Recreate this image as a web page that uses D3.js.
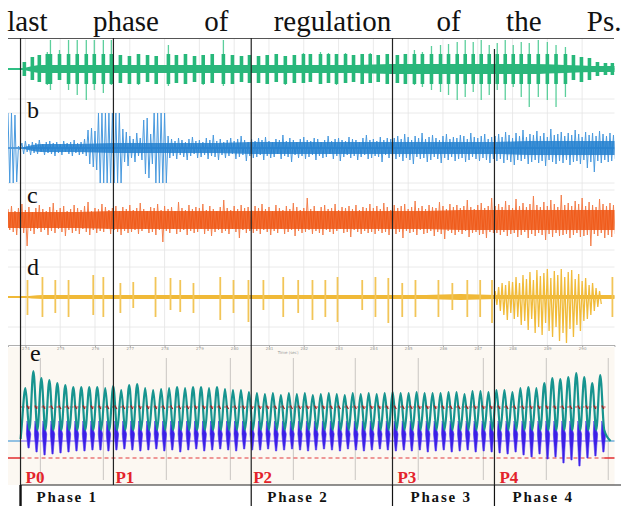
<!DOCTYPE html>
<html>
<head>
<meta charset="utf-8">
<script src="https://cdn.jsdelivr.net/npm/d3@7"></script>
<style>
html, body { margin: 0; padding: 0; background: #fff; }
svg { display: block; }
</style>
</head>
<body>
<div id="vis"></div>
<script>
// ---- values ----
const titleWords = ["last", "phase", "of", "regulation", "of", "the", "Ps."];
const timeTicks = [274, 275, 276, 277, 278, 279, 280, 281, 282, 283, 284, 285, 286, 287, 288, 289, 290];

// regulation points (s) and phases
const pTimes = [273.86, 276.53, 280.49, 284.55, 287.48];
const pLabels = ["P0", "P1", "P2", "P3", "P4"];
const phaseLabels = ["Phase 1", "Phase 2", "Phase 3", "Phase 4"];
const phaseFrom = [273.86, 280.49, 284.55, 287.48];

// trace a : bursts (time, up, down)
const aTime = [273.97, 274.20, 274.40, 274.63, 274.72, 274.98, 275.24, 275.49, 275.75, 275.98, 276.24, 276.47,
  276.73, 276.99, 277.25, 277.51, 277.76, 278.11, 278.34, 278.60, 278.86, 279.11, 279.37, 279.69, 279.95, 280.21, 280.44,
  280.70, 280.95, 281.21, 281.47, 281.73, 281.99, 282.19, 282.48, 282.71, 282.94, 283.20, 283.43, 283.68, 283.91, 284.14, 284.40,
  284.69, 284.92, 285.18, 285.41, 285.67, 285.93, 286.16, 286.41, 286.64, 286.87, 287.10, 287.33,
  287.56, 287.79, 288.02, 288.25, 288.48, 288.74, 289.00, 289.25, 289.52, 289.75, 289.98, 290.21, 290.44, 290.67, 290.87];
const aUp = [7, 12, 14, 17, 29, 19, 29, 29, 29, 29, 29, 29,
  14, 13, 15, 14, 13, 24, 14, 15, 13, 14, 15, 29, 14, 13, 14,
  13, 14, 15, 13, 14, 16, 15, 17, 16, 15, 16, 14, 15, 16, 14, 15,
  14, 15, 19, 17, 23, 24, 25, 27, 29, 27, 29, 24,
  26, 29, 24, 27, 26, 29, 27, 24, 22, 14, 12, 11, 7, 6, 6];
const aDn = [7, 11, 13, 16, 21, 11, 21, 26, 31, 21, 24, 16,
  14, 15, 16, 13, 15, 17, 14, 15, 13, 16, 14, 17, 15, 13, 14,
  14, 15, 13, 16, 14, 14, 13, 15, 14, 16, 14, 13, 15, 14, 13, 15,
  14, 15, 16, 18, 21, 23, 26, 31, 28, 23, 31, 26,
  21, 31, 18, 28, 38, 28, 31, 38, 28, 11, 13, 11, 7, 6, 6];
// noise floor, one value per second from 273.5 s
const aCore = [0, 4, 4, 4, 4, 4, 4, 4, 4, 4, 4, 5, 5, 5, 5, 5, 4, 3, 3];

// trace b : peak pairs every 0.1 s from 273.5 s
const bUp = [35, 35, 33, 2,
  5, 7, 4, 6, 5, 8, 4, 6, 7, 5, 6, 4, 7, 5, 6, 8, 5, 6, 9,
  18, 20, 17, 35, 35, 35, 35, 35, 35, 35, 19, 16,
  12, 9, 15, 10,
  28, 30, 14, 35, 35, 35, 35,
  12, 9, 7, 10, 8, 6, 9, 11, 7, 8, 6, 10, 8, 13, 7, 9, 6, 8, 10, 7, 9, 12, 8, 6, 9, 7, 10, 8, 11, 7, 6, 9, 8, 13, 7,
  10, 8, 6, 9, 11, 8, 7, 10, 9, 6, 8, 12, 7, 9, 10, 8, 7, 11, 9, 8, 6, 10, 13, 8, 9, 7, 11, 8, 10, 9,
  10, 12, 9, 14, 11, 8, 12, 10, 15, 9, 11, 13, 10, 8, 12, 14, 9, 11, 10, 13, 12, 9, 15, 11, 10, 12, 14, 9, 11,
  12, 14, 11, 16, 13, 10, 15, 12, 18, 11, 14, 13, 17, 12, 15, 11, 19, 13, 14, 16, 12, 15, 13, 18, 14, 11, 16, 13, 15, 12,
  17, 14, 12, 15, 13];
const bDn = [35, 35, 34, 2,
  6, 4, 7, 5, 6, 4, 7, 5, 6, 8, 5, 7, 4, 6, 8, 5, 7, 6, 8,
  16, 19, 22, 35, 35, 35, 35, 35, 35, 35, 14, 18,
  10, 14, 8, 12,
  26, 30, 16, 35, 35, 35, 35,
  10, 8, 11, 7, 9, 12, 8, 6, 10, 9, 7, 11, 8, 9, 12, 7, 10, 8, 6, 11, 9, 7, 13, 8, 10, 9, 7, 12, 8, 10, 9, 6, 11, 8, 9,
  14, 7, 10, 8, 11, 9, 7, 12, 8, 10, 9, 6, 11, 8, 13, 9, 7, 10, 8, 12, 9, 7, 11, 10, 8, 9, 14, 7, 10, 8,
  11, 9, 13, 10, 12, 16, 9, 11, 10, 14, 12, 9, 11, 15, 10, 12, 9, 13, 11, 10, 14, 12, 9, 11, 13, 10, 12, 15, 11,
  13, 11, 15, 12, 14, 17, 12, 13, 11, 16, 14, 12, 15, 13, 18, 12, 14, 16, 13, 15, 12, 17, 14, 13, 16, 12, 20, 14, 24, 13,
  15, 12, 14, 13, 11];
const bCore = [0, 4, 4, 5, 5, 5, 5, 6, 6, 6, 6, 6, 6, 6, 6, 7, 7, 7, 7];

// trace c : peak pairs every 0.1 s from 273.5 s
const cUp = [11, 14, 9, 12, 16, 10, 13, 8, 12, 15, 11, 9, 13, 17, 10, 12, 14, 9, 11, 15, 12, 10, 14, 18, 9, 12, 11, 16, 13, 10, 12, 14, 9, 13, 11,
  15, 10, 12, 17, 11, 9, 13, 12, 16, 10, 14, 11, 13, 9, 18, 12, 10, 15, 11, 13, 12, 16, 10, 14, 11, 9, 13, 20, 12, 10, 14, 11, 15, 12, 13,
  10, 14, 12, 16, 11, 13, 9, 15, 12, 10, 14, 11, 17, 13, 10, 12, 22, 11, 14, 9, 13, 15, 11, 12, 16, 10, 13, 12, 14, 11, 15, 10, 13, 12, 16,
  12, 14, 11, 17, 13, 10, 15, 12, 14, 16, 11, 13, 19, 12, 14, 11, 15, 13, 12, 18, 14, 11, 16, 13, 15, 12, 14, 20, 13, 11, 15, 17, 12, 14, 22,
  14, 16, 13, 19, 15, 12, 21, 14, 17, 13, 16, 24, 15, 13, 18, 14, 20, 16, 13, 25, 15, 17, 14, 19, 16, 22, 14, 18, 15, 13, 21, 16, 14, 17, 15];
const cDn = [10, 12, 15, 9, 13, 26, 11, 14, 9, 12, 10, 15, 11, 13, 9, 12, 16, 10, 13, 11, 14, 9, 12, 15, 10, 13, 11, 12, 9, 14, 10, 12, 15, 11, 13,
  12, 10, 14, 11, 9, 13, 12, 15, 10, 22, 11, 13, 9, 14, 12, 10, 15, 11, 13, 12, 9, 14, 11, 16, 12, 10, 13, 11, 14, 9, 12, 18, 10, 13, 11,
  13, 11, 14, 10, 12, 15, 11, 13, 9, 14, 12, 10, 16, 11, 13, 12, 10, 14, 11, 13, 15, 10, 12, 14, 11, 9, 13, 12, 17, 10, 12, 14, 11, 13, 12,
  14, 11, 13, 12, 15, 10, 14, 12, 18, 11, 13, 12, 15, 10, 14, 13, 11, 16, 12, 14, 19, 11, 13, 15, 12, 14, 11, 17, 13, 12, 15, 14, 18, 12, 13,
  13, 15, 12, 16, 14, 13, 17, 15, 12, 18, 14, 16, 13, 15, 20, 14, 17, 13, 16, 15, 14, 18, 15, 13, 17, 16, 15, 26, 14, 16, 13, 18, 15, 17, 14];
const cCore = [8, 8, 8, 9, 9, 9, 9, 9, 9, 9, 9, 9, 9, 10, 10, 10, 10, 10, 10];

// trace d : spikes (time, up, down) and the burst of phase 4 (pairs every 0.1 s from 287.5 s)
const dTime = [274.06, 274.49, 274.86, 275.24, 275.95, 276.24, 276.73, 277.10, 277.74, 278.17, 278.45, 278.83,
  279.60, 279.98, 280.41, 280.84, 281.41, 281.84, 282.25, 282.62, 282.97, 283.68, 284.06, 284.43,
  284.83, 285.21, 285.87, 286.27, 286.70, 287.07, 287.41, 290.87];
const dUp = [17, 20, 17, 17, 22, 20, 14, 15, 20, 19, 17, 14, 20, 17, 17, 17, 20, 17, 17, 17, 20, 17, 20, 19,
  14, 17, 17, 14, 17, 17, 17, 20];
const dDn = [18, 20, 16, 20, 18, 20, 16, 11, 20, 13, 15, 16, 23, 16, 25, 13, 20, 16, 23, 20, 25, 13, 20, 26,
  20, 20, 20, 13, 20, 20, 26, 20];
const dBurstUp = [6, 10, 14, 12, 16, 15, 20, 14, 22, 18, 25, 17, 27, 21, 24, 28, 19, 26, 22, 28, 20, 25, 27, 18, 23, 16, 19, 12, 14, 9, 6];
const dBurstDn = [8, 14, 18, 23, 16, 22, 20, 28, 24, 33, 22, 36, 30, 38, 26, 34, 40, 30, 44, 36, 46, 32, 40, 28, 34, 24, 22, 18, 14, 10, 7];
const dCore = [0, 2, 2, 2, 2, 2, 2, 2, 2, 2, 2, 2, 2, 3, 2, 2, 2, 2, 2];

// trace e : one value per breathing cycle
const ePeak = [42, 59, 52, 50, 47, 45, 43, 43, 43, 43, 42, 44,
  40, 45, 46, 42, 40, 41, 42, 43, 42, 43, 43, 42, 43, 41, 40, 40, 38,
  37, 36, 37, 35, 37, 36, 37, 35, 36, 37, 36, 35, 37, 36, 37, 36, 37, 38,
  37, 37, 38, 37, 37, 37, 38, 38, 36, 39, 39, 38, 40,
  40, 38, 42, 43, 42, 47, 52, 51, 53, 57, 53, 47, 55];
const eBurst = [18, 22, 25, 24, 23, 22, 21, 21, 20, 20, 21, 20,
  19, 20, 21, 20, 19, 21, 20, 22, 20, 19, 21, 20, 19, 20, 21, 19, 20,
  20, 19, 21, 20, 19, 20, 21, 20, 19, 20, 21, 19, 20, 21, 20, 19, 20, 21,
  20, 21, 20, 22, 21, 20, 22, 21, 20, 22, 21, 22, 23,
  24, 22, 25, 27, 24, 29, 27, 33, 30, 36, 28, 26, 22];
const eGrid = [274.43, 276.24, 278.05, 279.89, 281.70, 283.48, 285.29, 287.16, 288.97, 290.75];
const eUpperRef = 23, eLowerRef = -28, eRest = -11;

// ---- drawing ----
const svg = d3.select("#vis").append("svg").attr("width", 621).attr("height", 506);
const serif = "'Liberation Serif', 'Times New Roman', serif";

const x = d3.scaleLinear().domain([273.5, 290.93]).range([8, 614.5]);
const yA = d3.scaleLinear().domain([-30, 30]).range([99, 39]);
const yB = d3.scaleLinear().domain([-35, 35]).range([183, 113]);
const yC = d3.scaleLinear().domain([-30, 30]).range([250, 190]);
const yD = d3.scaleLinear().domain([-30, 30]).range([327, 267]);
const yE = d3.scaleLinear().domain([0, 60]).range([430, 370]);

// title, justified over the width like in the paper
const title = svg.append("g").attr("font-family", serif).attr("font-size", 29).attr("fill", "#111");
const words = title.selectAll("text").data(titleWords).join("text").attr("y", 30.5).text(d => d);
const wl = words.nodes().map(n => n.getComputedTextLength());
const gap = (621.5 - 7.3 - d3.sum(wl)) / (titleWords.length - 1);
let cur = 7.3;
words.attr("x", (d, i) => { const p = cur; cur += wl[i] + gap; return p; });

// panel e background
svg.append("rect").attr("x", 8).attr("y", 347).attr("width", 606.5).attr("height", 138).attr("fill", "#fcf8f2");

// grid of panels a-d
const grid = svg.append("g").attr("stroke", "#e4e4e4").attr("stroke-width", 0.8);
grid.selectAll(".v").data(timeTicks).join("line").attr("class", "v")
  .attr("x1", d => x(d)).attr("x2", d => x(d)).attr("y1", 38).attr("y2", 345);
[[yA, -30], [yB, 35], [yB, -35], [yC, 30], [yC, -30], [yD, 30], [yD, -30]].forEach(([s, v]) => {
  grid.append("line").attr("x1", 8).attr("x2", 614.5).attr("y1", s(v)).attr("y2", s(v));
});

// time axis under d
const axis = svg.append("g").attr("transform", "translate(0,345)")
  .call(d3.axisBottom(x).tickValues(timeTicks).tickSize(2).tickFormat(d => d));
axis.select(".domain").attr("stroke", "#9a9a9a").attr("stroke-width", 0.8);
axis.selectAll(".tick line").attr("stroke", "#aaa");
axis.selectAll("text").attr("font-size", 4).attr("fill", "#999").attr("font-family", "DejaVu Sans").attr("dy", "0.1em");
svg.append("text").attr("x", x(281.55)).attr("y", 354).attr("font-size", 4).attr("fill", "#999")
  .attr("font-family", "DejaVu Sans").attr("text-anchor", "middle").text("Time (sec)");

svg.append("clipPath").attr("id", "clipTop").append("rect").attr("x", 8).attr("y", 38).attr("width", 606.5).attr("height", 307);
const traces = svg.append("g").attr("clip-path", "url(#clipTop)");

function coreArea(vals, y, t0) {
  return d3.area().x((d, i) => x(Math.max(t0, 273.5 + i))).y0((d) => y(-d)).y1(d => y(d))
    .curve(d3.curveMonotoneX)(vals);
}
// peak pairs -> signal line: up peak at t, down peak half a step later
function zig(up, dn, t0, step) {
  const pts = [];
  up.forEach((u, i) => { pts.push([t0 + i * step, u]); pts.push([t0 + i * step + step / 2, -dn[i]]); });
  return pts;
}

// a (green)
traces.append("line").attr("x1", x(273.5)).attr("x2", x(290.93)).attr("y1", yA(0)).attr("y2", yA(0))
  .attr("stroke", "#2fbf84").attr("stroke-width", 2);
traces.append("path").attr("d", coreArea(aCore, yA, 273.86)).attr("fill", "#2db57c");
const ga = traces.append("g");
ga.selectAll("line").data(aTime).join("line")
  .attr("x1", d => x(d)).attr("x2", d => x(d))
  .attr("y1", (d, i) => yA(aUp[i])).attr("y2", (d, i) => yA(-aDn[i]))
  .attr("stroke", "#5ccf9c").attr("stroke-width", 1.3);
ga.selectAll("rect").data(aTime).join("rect")
  .attr("x", d => x(d) - 1.8).attr("width", 3.6)
  .attr("y", (d, i) => yA(Math.min(aUp[i], 15)))
  .attr("height", (d, i) => yA(-Math.min(aDn[i], 15)) - yA(Math.min(aUp[i], 15)))
  .attr("fill", "#27b87a");

// b (blue)
traces.append("line").attr("x1", x(273.5)).attr("x2", x(290.93)).attr("y1", yB(0)).attr("y2", yB(0))
  .attr("stroke", "#2a7cc9").attr("stroke-width", 1.5);
traces.append("path").attr("d", d3.line().x(d => x(d[0])).y(d => yB(d[1]))(zig(bUp, bDn, 273.5, 0.1)))
  .attr("fill", "none").attr("stroke", "#4a9ade").attr("stroke-width", 1);
traces.append("path").attr("d", coreArea(bCore, yB, 273.86)).attr("fill", "#2380cf").attr("opacity", 0.85);

// c (orange)
traces.append("path").attr("d", d3.line().x(d => x(d[0])).y(d => yC(d[1]))(zig(cUp, cDn, 273.5, 0.1)))
  .attr("fill", "none").attr("stroke", "#f37f4c").attr("stroke-width", 1);
traces.append("path").attr("d", coreArea(cCore, yC, 273.5)).attr("fill", "#ee5512").attr("opacity", 0.85);

// d (yellow)
traces.append("line").attr("x1", x(273.5)).attr("x2", x(290.93)).attr("y1", yD(0)).attr("y2", yD(0))
  .attr("stroke", "#f0b937").attr("stroke-width", 2);
traces.append("path").attr("d", coreArea(dCore, yD, 273.86)).attr("fill", "#f0b937");
traces.append("g").selectAll("line").data(dTime).join("line")
  .attr("x1", d => x(d)).attr("x2", d => x(d))
  .attr("y1", (d, i) => yD(dUp[i])).attr("y2", (d, i) => yD(-dDn[i]))
  .attr("stroke", "#f2c558").attr("stroke-width", 1.8);
traces.append("path").attr("d", d3.line().x(d => x(d[0])).y(d => yD(d[1]))(zig(dBurstUp, dBurstDn, 287.5, 0.1)))
  .attr("fill", "none").attr("stroke", "#f1bb3a").attr("stroke-width", 1.3);

// panel labels
const lab = svg.append("g").attr("font-family", serif).attr("font-size", 24).attr("fill", "#111");
[["b", 27, 118], ["c", 27, 203], ["d", 27, 275], ["e", 30, 361]].forEach(([t, xx, yy]) => {
  lab.append("text").attr("x", xx).attr("y", yy).text(t);
});

// panel e
const cyc = d3.scaleLinear().domain([0, 72]).range([274.0, 290.52]);
const ex = i => x(cyc(i));
svg.append("g").selectAll("line").data(eGrid).join("line")
  .attr("x1", d => x(d)).attr("x2", d => x(d)).attr("y1", 358).attr("y2", 480)
  .attr("stroke", "#c9c6c2").attr("stroke-width", 1);

svg.append("line").attr("x1", x(273.86)).attr("x2", ex(72.9)).attr("y1", yE(eUpperRef)).attr("y2", yE(eUpperRef))
  .attr("stroke", "#e2383a").attr("stroke-width", 1.2).attr("stroke-dasharray", "4,3");
svg.append("line").attr("x1", x(273.86)).attr("x2", ex(72.5)).attr("y1", yE(eLowerRef)).attr("y2", yE(eLowerRef))
  .attr("stroke", "#e2383a").attr("stroke-width", 1.2).attr("stroke-dasharray", "4,3");
// solid ends
[[x(273.5), x(273.86)], [ex(72.5), x(290.93)]].forEach(([a, b]) => {
  svg.append("line").attr("x1", a).attr("x2", b).attr("y1", yE(eLowerRef)).attr("y2", yE(eLowerRef))
    .attr("stroke", "#e2383a").attr("stroke-width", 1.6);
  svg.append("line").attr("x1", a).attr("x2", b).attr("y1", yE(eRest)).attr("y2", yE(eRest))
    .attr("stroke", "#5aa3d8").attr("stroke-width", 1.3);
});
svg.append("line").attr("x1", x(273.86)).attr("x2", ex(72.5)).attr("y1", yE(eRest)).attr("y2", yE(eRest))
  .attr("stroke", "#a392f4").attr("stroke-width", 1.4);

// bursts of the inspiratory muscle
svg.append("g").selectAll("path").data(eBurst).join("path")
  .attr("d", (d, i) => {
    const c = ex(i + 0.4), top = yE(9), mid = yE(-4), bot = yE(-d);
    return `M${c - 1.6},${top} L${c + 2.2},${mid} L${c + 0.6},${bot} L${c - 0.6},${bot} L${c - 2.2},${mid} Z`;
  })
  .attr("fill", "#3b1fe6").attr("stroke", "#4a30f0").attr("stroke-width", 0.6);

// breathing flow
const tealPts = [[-0.6, -9]];
ePeak.forEach((p, i) => { tealPts.push([i - 0.5, 0]); tealPts.push([i, p]); });
tealPts.push([72.5, 0]);
tealPts.push([73.3, eRest]);
svg.append("path").attr("d", d3.line().x(d => ex(d[0])).y(d => yE(d[1])).curve(d3.curveMonotoneX)(tealPts))
  .attr("fill", "none").attr("stroke", "#17948f").attr("stroke-width", 2.2);

// marks on the upper reference
svg.append("g").selectAll("line").data(ePeak).join("line")
  .attr("x1", (d, i) => ex(i + 0.2)).attr("x2", (d, i) => ex(i + 0.45))
  .attr("y1", yE(eUpperRef) - 1.5).attr("y2", yE(eUpperRef) + 2)
  .attr("stroke", "#9a1e1e").attr("stroke-width", 1.3);

// regulation lines, P labels and phase row
svg.append("line").attr("x1", 8).attr("x2", 614).attr("y1", 38.5).attr("y2", 38.5).attr("stroke", "#555").attr("stroke-width", 1);
svg.append("line").attr("x1", x(pTimes[0])).attr("x2", 621).attr("y1", 485).attr("y2", 485).attr("stroke", "#222").attr("stroke-width", 1.2);
svg.append("g").selectAll("line").data(pTimes).join("line")
  .attr("x1", d => x(d)).attr("x2", d => x(d))
  .attr("y1", (d, i) => i === 4 ? 49 : 38).attr("y2", 485)
  .attr("stroke", "#222").attr("stroke-width", 1.2);
svg.append("g").selectAll("line").data(phaseFrom).join("line")
  .attr("x1", d => x(d)).attr("x2", d => x(d)).attr("y1", 485).attr("y2", 506)
  .attr("stroke", "#111").attr("stroke-width", (d, i) => i === 0 ? 2.4 : 1.2);

svg.append("g").selectAll("text").data(pLabels).join("text")
  .attr("x", (d, i) => x(pTimes[i]) + (i === 1 || i === 2 ? 2 : 5)).attr("y", 483)
  .attr("font-family", serif).attr("font-weight", "bold").attr("font-size", 17).attr("fill", "#e3232b")
  .text(d => d);

svg.append("g").selectAll("text").data(phaseLabels).join("text")
  .attr("x", (d, i) => x(phaseFrom[i]) + (i < 2 ? 16 : 18)).attr("y", 502)
  .attr("font-family", serif).attr("font-weight", "bold").attr("font-size", 15)
  .attr("letter-spacing", 1.8).attr("fill", "#111")
  .text(d => d);
</script>
</body>
</html>
